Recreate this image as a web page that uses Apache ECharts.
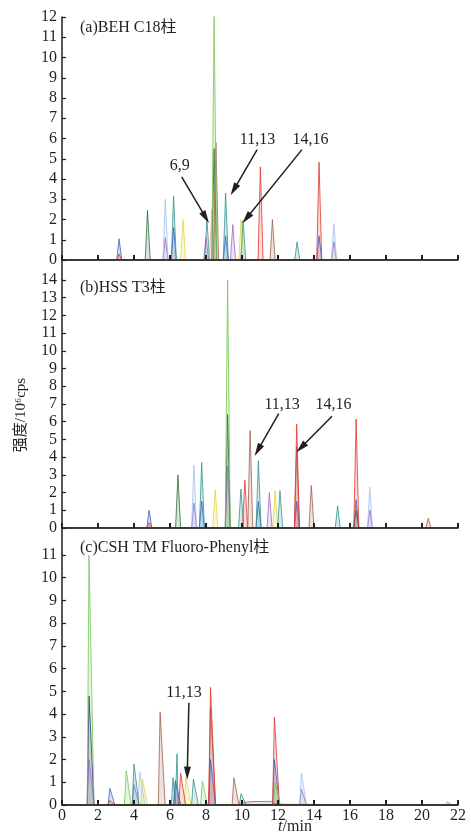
<!DOCTYPE html>
<html lang="zh">
<head>
<meta charset="UTF-8">
<title>三种色谱柱的总离子流图</title>
<style>
    html, body { margin: 0; padding: 0; background: #fff; }
    #main { width: 471px; height: 833px; }
</style>
</head>
<body>
<div id="main"></div>
<script src="https://cdn.jsdelivr.net/npm/echarts@6/dist/echarts.min.js"></script>
<script>
    // 峰: [保留时间/min, 强度/10^6cps]
    // (a) BEH C18
    const aGreen = [[8.45, 12.1]];
    const aDarkGreen = [[4.75, 2.45], [8.45, 5.5]];
    const aRed = [[3.17, 0.3], [11.02, 4.6], [14.28, 4.83]];
    const aPink = [[8.32, 2.5]];
    const aBrown = [[8.55, 5.8], [11.69, 2.0]];
    const aBlue = [[3.17, 1.05], [6.2, 1.6], [9.09, 1.2], [14.28, 1.2]];
    const aLightBlue = [[5.74, 3.0], [15.1, 1.8]];
    const aTeal = [[6.2, 3.15], [8.05, 2.0], [9.09, 3.3], [10.06, 1.95], [13.06, 0.9]];
    const aPurple = [[5.74, 1.1], [8.0, 1.1], [9.49, 1.75], [15.1, 0.9]];
    const aYellow = [[6.72, 2.0], [9.95, 2.0]];

    // (b) HSS T3
    const bGreen = [[9.2, 14.0]];
    const bDarkGreen = [[6.44, 3.0], [9.2, 6.4], [16.34, 1.0]];
    const bRed = [[4.84, 0.3], [10.16, 2.7], [13.04, 5.86], [16.34, 6.14]];
    const bBrown = [[10.45, 5.5], [13.04, 4.6], [13.85, 2.4], [20.35, 0.55]];
    const bBlue = [[4.84, 1.0], [7.76, 1.5], [10.91, 1.5], [13.04, 1.5], [16.34, 1.6]];
    const bLightBlue = [[7.33, 3.55], [17.1, 2.3]];
    const bTeal = [[7.76, 3.7], [9.94, 2.2], [10.91, 3.8], [12.11, 2.1], [15.31, 1.25]];
    const bPurple = [[7.33, 1.4], [9.2, 3.5], [11.52, 2.0], [17.1, 1.0]];
    const bYellow = [[8.51, 2.15], [11.84, 2.1]];

    // (c) CSH TM Fluoro-Phenyl
    const cGreen = [[1.5, 11.0], [3.57, 1.5], [7.8, 1.05], [11.85, 1.0], [21.4, 0.15]];
    const cNavy = [[1.5, 4.8]];
    const cPurple = [[1.5, 2.0], [4.0, 0.9], [6.3, 1.1], [13.3, 0.7]];
    const cBlue = [[2.66, 0.73], [6.3, 1.05], [8.25, 2.0], [11.8, 2.0]];
    const cRed = [[2.66, 0.2], [6.59, 1.4], [8.25, 5.18], [11.8, 3.86]];
    const cTeal = [[4.0, 1.8], [6.17, 1.2], [6.39, 2.25], [7.3, 1.14], [9.95, 0.5]];
    const cLightBlue = [[4.32, 1.44], [13.3, 1.4]];
    const cYellow = [[4.47, 1.15], [6.89, 1.2]];
    const cBrown = [[5.45, 4.1], [8.25, 4.3], [9.55, 1.2]];
    const cBrownBase = [[10.05, 0.1], [10.5, 0.15], [11.6, 0.16], [11.95, 0.03]];

    // 标注: 文字位置与箭头(数据坐标)
    const notesA = [
        { text: '6,9', at: [6.54, 4.65], from: [6.65, 4.1], to: [7.98, 2.1] },
        { text: '11,13', at: [10.86, 5.94], from: [10.84, 5.45], to: [9.55, 3.47] },
        { text: '14,16', at: [13.8, 5.94], from: [13.33, 5.45], to: [10.25, 2.06] }
    ];
    const notesB = [
        { text: '11,13', at: [12.23, 6.93], from: [12.04, 6.46], to: [10.88, 4.39] },
        { text: '14,16', at: [15.09, 6.93], from: [15.0, 6.31], to: [13.28, 4.54] }
    ];
    const notesC = [
        { text: '11,13', at: [6.78, 4.95], from: [7.05, 4.5], to: [6.96, 1.4] }
    ];

    const yMax = [12, 14, 11];
    const titles = ['(a)BEH C18柱', '(b)HSS T3柱', '(c)CSH TM Fluoro-Phenyl柱'];

    const C = {
        green: '#72c850', darkGreen: '#2f6b3c', red: '#e5352b', pink: '#f2a39a',
        brown: '#a0604e', blue: '#3b5fc6', lightBlue: '#9fc3ee', teal: '#2f9490',
        purple: '#9a6cc6', yellow: '#e0d838', navy: '#2b3a7a'
    };
    const serif = '"Liberation Serif", "Noto Sans CJK SC", serif';

    // 峰形 -> 折线点 (左右半宽, 分钟)
    function trace(peaks, wl, wr, extra) {
        let pts = [[0, 0]];
        peaks.forEach(([t, h]) => { pts.push([t - wl, 0], [t, h], [t + wr, 0]); });
        if (extra) pts = pts.concat(extra);
        pts.push([22, 0]);
        return pts.sort((p, q) => p[0] - q[0]);
    }

    const panels = [
        [['yellow', aYellow], ['purple', aPurple], ['lightBlue', aLightBlue], ['blue', aBlue],
         ['teal', aTeal], ['pink', aPink], ['brown', aBrown], ['darkGreen', aDarkGreen],
         ['red', aRed], ['green', aGreen]],
        [['yellow', bYellow], ['purple', bPurple], ['lightBlue', bLightBlue], ['blue', bBlue],
         ['teal', bTeal], ['brown', bBrown], ['darkGreen', bDarkGreen], ['red', bRed], ['green', bGreen]],
        [['yellow', cYellow], ['purple', cPurple], ['lightBlue', cLightBlue], ['blue', cBlue],
         ['teal', cTeal], ['brown', cBrown, cBrownBase], ['navy', cNavy], ['red', cRed], ['green', cGreen]]
    ];
    const widths = [[0.13, 0.15], [0.13, 0.15], [0.1, 0.28]];

    const grids = [
        { left: 62, width: 396, top: 17, height: 243 },
        { left: 62, width: 396, top: 280, height: 248 },
        { left: 62, width: 396, top: 555, height: 250 }
    ];

    const series = [];
    panels.forEach((list, i) => {
        list.forEach(([key, peaks, extra]) => {
            series.push({
                type: 'line',
                xAxisIndex: i, yAxisIndex: i,
                data: trace(peaks, widths[i][0], widths[i][1], extra),
                symbol: 'none',
                lineStyle: { color: C[key], width: 0.8 },
                areaStyle: { color: C[key], opacity: 0.18 },
                silent: true
            });
        });
    });

    [notesA, notesB, notesC].forEach((notes, i) => {
        series.push({
            type: 'scatter',
            xAxisIndex: i, yAxisIndex: i,
            symbolSize: 1,
            itemStyle: { color: '#fff', opacity: 0 },
            z: 6,
            data: notes.map(n => ({ value: n.at, name: n.text })),
            label: {
                show: true, position: 'inside', formatter: '{b}',
                fontFamily: serif, fontSize: 16, color: '#231f20',
                opacity: 1, textBorderWidth: 0
            },
            markLine: {
                silent: true,
                symbol: ['none', 'triangle'],
                symbolSize: [7, 13],
                label: { show: false },
                lineStyle: { color: '#231f20', width: 1.5, type: 'solid' },
                data: notes.map(n => [{ coord: n.from }, { coord: n.to }])
            }
        });
    });

    const myChart = echarts.init(document.getElementById('main'));
    myChart.setOption({
        animation: false,
        backgroundColor: '#fff',
        title: titles.map((t, i) => ({
            text: t, left: 75, top: [15, 275, 535][i],
            textStyle: { fontFamily: serif, fontSize: 16, fontWeight: 'normal', color: '#231f20' }
        })),
        grid: grids,
        xAxis: grids.map((g, i) => ({
            gridIndex: i, type: 'value', min: 0, max: 22, interval: 2, z: 10,
            axisLine: { show: true, lineStyle: { color: '#231f20', width: 1.5 } },
            axisTick: { show: true, inside: true, length: 5, lineStyle: { color: '#231f20', width: 2 } },
            axisLabel: { show: i === 2, margin: 3, fontFamily: serif, fontSize: 16, color: '#231f20' },
            splitLine: { show: false }
        })),
        yAxis: grids.map((g, i) => ({
            gridIndex: i, type: 'value', min: 0, max: yMax[i], interval: 1, z: 10,
            axisLine: { show: true, lineStyle: { color: '#231f20', width: 1.5 } },
            axisTick: { show: true, inside: true, length: 4, lineStyle: { color: '#231f20', width: 1.2 } },
            axisLabel: { margin: 5, fontFamily: serif, fontSize: 16, color: '#231f20' },
            splitLine: { show: false }
        })),
        graphic: [
            { type: 'line', shape: { x1: 62, y1: 260, x2: 62, y2: 280 }, style: { stroke: '#231f20', lineWidth: 1.5 } },
            { type: 'line', shape: { x1: 62, y1: 528, x2: 62, y2: 555 }, style: { stroke: '#231f20', lineWidth: 1.5 } },
            {
                type: 'text', x: 21, y: 415, rotation: Math.PI / 2,
                style: {
                    text: '强度/10⁶cps', font: '15px ' + serif, fill: '#231f20',
                    align: 'center', verticalAlign: 'middle'
                }
            },
            {
                type: 'text', x: 295, y: 827,
                style: {
                    text: '{i|t}/min', font: '16px ' + serif, fill: '#231f20',
                    align: 'center', verticalAlign: 'middle',
                    rich: { i: { fontStyle: 'italic', fontFamily: serif, fontSize: 16 } }
                }
            }
        ],
        series: series
    });
</script>
</body>
</html>
